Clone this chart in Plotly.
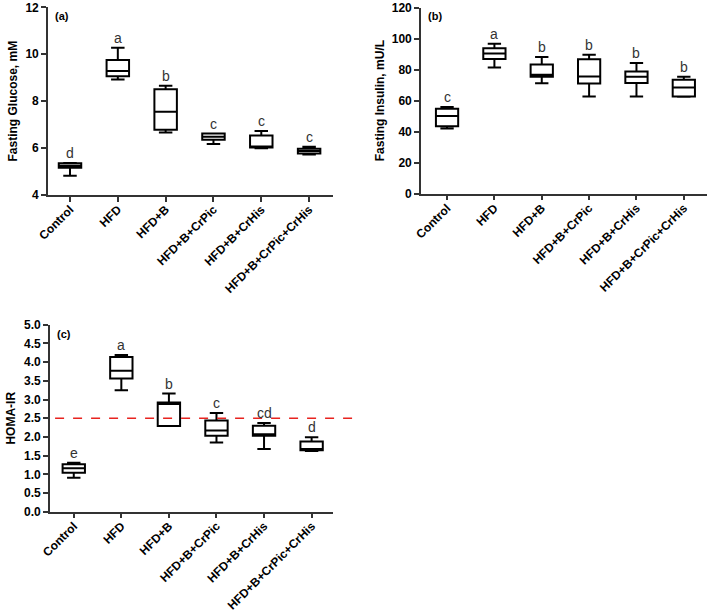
import plotly.graph_objects as go

categories = ["Control", "HFD", "HFD+B", "HFD+B+CrPic", "HFD+B+CrHis", "HFD+B+CrPic+CrHis"]

# (a) Fasting glucose, mM
glu_min = [4.82, 8.93, 6.66, 6.17, 5.99, 5.73]
glu_q1 = [5.16, 9.06, 6.78, 6.36, 6.02, 5.77]
glu_med = [5.25, 9.29, 7.55, 6.48, 6.05, 5.88]
glu_q3 = [5.35, 9.76, 8.51, 6.62, 6.54, 5.97]
glu_max = [5.36, 10.28, 8.66, 6.62, 6.73, 6.06]
glu_letters = ["d", "a", "b", "c", "c", "c"]
glu_ticks = [4, 6, 8, 10, 12]

# (b) Fasting insulin, mU/L
ins_min = [42.0, 81.4, 71.2, 62.7, 62.7, 62.5]
ins_q1 = [43.5, 86.9, 75.4, 71.1, 71.3, 62.7]
ins_med = [50.1, 90.3, 76.6, 75.6, 75.4, 68.5]
ins_q3 = [54.8, 93.8, 83.2, 86.7, 78.8, 73.5]
ins_max = [55.9, 96.7, 88.1, 89.5, 84.2, 75.4]
ins_letters = ["c", "a", "b", "b", "b", "b"]
ins_ticks = [0, 20, 40, 60, 80, 100, 120]

# (c) HOMA-IR
homa_min = [0.91, 3.25, 2.29, 1.85, 1.68, 1.62]
homa_q1 = [1.04, 3.56, 2.29, 2.03, 2.03, 1.64]
homa_med = [1.16, 3.77, 2.88, 2.17, 2.07, 1.68]
homa_q3 = [1.27, 4.14, 2.92, 2.44, 2.30, 1.88]
homa_max = [1.31, 4.19, 3.16, 2.64, 2.37, 1.99]
homa_letters = ["e", "a", "b", "c", "cd", "d"]
homa_ticks = [0.0, 0.5, 1.0, 1.5, 2.0, 2.5, 3.0, 3.5, 4.0, 4.5, 5.0]
homa_threshold = 2.5

FONT = "Arial, Liberation Sans, Helvetica, sans-serif"

fig = go.Figure()

panels = [
    ("x", "y", glu_min, glu_q1, glu_med, glu_q3, glu_max, glu_letters),
    ("x2", "y2", ins_min, ins_q1, ins_med, ins_q3, ins_max, ins_letters),
    ("x3", "y3", homa_min, homa_q1, homa_med, homa_q3, homa_max, homa_letters),
]

for xr, yr, mn, q1, md, q3, mx, letters in panels:
    fig.add_trace(go.Box(
        x=categories, q1=q1, median=md, q3=q3, lowerfence=mn, upperfence=mx,
        xaxis=xr, yaxis=yr, boxpoints=False, fillcolor="white",
        line=dict(color="black", width=2), width=0.47, whiskerwidth=0.6,
        showlegend=False, hoverinfo="skip",
    ))
    for c, v, t in zip(categories, mx, letters):
        fig.add_annotation(x=c, y=v, xref=xr, yref=yr, text=t, showarrow=False,
                           yanchor="bottom", yshift=0,
                           font=dict(family=FONT, size=14, color="#333333"))

axis_common = dict(
    showline=True, linecolor="#333333", linewidth=1.6, ticks="outside",
    ticklen=5, tickwidth=1.6, tickcolor="#333333", showgrid=False, zeroline=False,
    automargin=False, ticklabeloverflow="allow",
    tickfont=dict(family=FONT, size=12, color="black"),
)
xaxis_common = dict(axis_common, tickangle=-45, type="category",
                    categoryorder="array", categoryarray=categories,
                    tickvals=categories, ticktext=["<b>%s</b>" % c for c in categories],
                    ticklabelstandoff=-4)

def yticks(vals, fmt):
    return dict(tickmode="array", tickvals=vals, ticktext=["<b>" + fmt.format(v) + "</b>" for v in vals])

fig.update_layout(
    width=709, height=612, margin=dict(l=0, r=0, t=0, b=0),
    paper_bgcolor="white", plot_bgcolor="white",
    xaxis=dict(xaxis_common, domain=[0.0677, 0.4697], range=[-0.46, 5.5], anchor="y"),
    yaxis=dict(axis_common, **yticks(glu_ticks, "{:d}"), domain=[0.6814, 0.9879], range=[4, 12], anchor="x",
               title=dict(text="<b>Fasting Glucose, mM</b>", standoff=5,
                          font=dict(family=FONT, size=12, color="black"))),
    xaxis2=dict(xaxis_common, domain=[0.5938, 0.9972], range=[-0.55, 5.49], anchor="y2"),
    yaxis2=dict(axis_common, **yticks(ins_ticks, "{:d}"), domain=[0.6835, 0.9877], range=[0, 120], anchor="x2",
                title=dict(text="<b>Fasting Insulin, mU/L</b>", standoff=5,
                           font=dict(family=FONT, size=12, color="black"))),
    xaxis3=dict(xaxis_common, domain=[0.0705, 0.4697], range=[-0.5, 5.45], anchor="y3"),
    yaxis3=dict(axis_common, **yticks(homa_ticks, "{:.1f}"), domain=[0.1639, 0.4694], range=[0, 5],
                anchor="x3",
                title=dict(text="<b>HOMA-IR</b>", standoff=6,
                           font=dict(family=FONT, size=12, color="black"))),
)

for xr, yr, lab in [("x", "y", "(a)"), ("x2", "y2", "(b)"), ("x3", "y3", "(c)")]:
    fig.add_annotation(xref=xr + " domain", yref=yr + " domain", x=0.018, y=0.995,
                       xanchor="left", yanchor="top", text="<b>%s</b>" % lab,
                       showarrow=False, font=dict(family=FONT, size=11, color="black"))

fig.add_shape(type="line", xref="x3 domain", yref="y3", x0=0.018, x1=1.07,
              y0=homa_threshold, y1=homa_threshold,
              line=dict(color="#e8231f", width=1.5, dash="dash"))

# remove the browser's default 8px body margin so the figure fills the window
fig.write_html("out.html", config={"displayModeBar": False},
               post_script="document.body.style.margin='0';document.body.style.overflow='hidden';")
